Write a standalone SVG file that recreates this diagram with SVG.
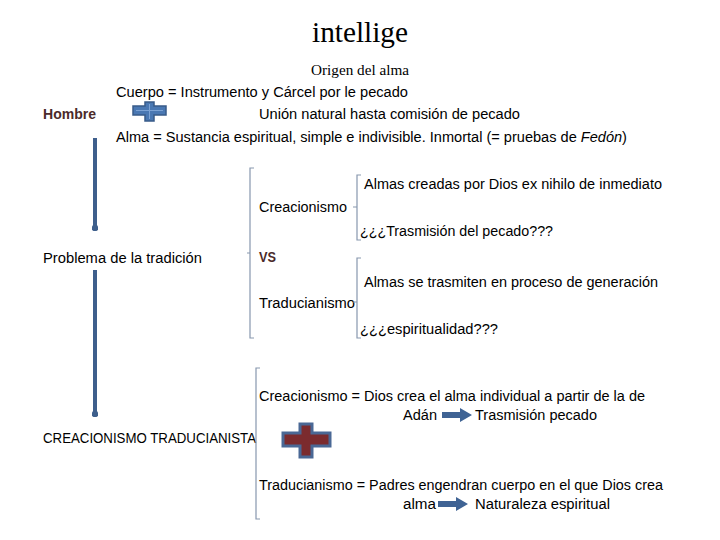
<svg xmlns="http://www.w3.org/2000/svg" width="720" height="540" viewBox="0 0 720 540">
<defs>
<style>
.t{font-family:"Liberation Sans",Arial,sans-serif;font-size:14px;fill:#000}
.title{font-family:"Liberation Serif","Times New Roman",serif;fill:#000}
.brown{font-family:"Liberation Sans",Arial,sans-serif;font-size:14px;font-weight:bold;fill:#4b2a2a}
.br{fill:none;stroke:#8797ae;stroke-width:1.2}
.varrow{stroke:#3e5f8c;stroke-width:4;fill:none}
.blk{fill:#3f6394}
</style>
<marker id="dot" viewBox="0 0 6 6" refX="3" refY="3" markerWidth="1.6" markerHeight="1.6" markerUnits="strokeWidth">
<circle cx="3" cy="3" r="3" fill="#3e5f8c"/>
</marker>
<path id="blockArrow" d="M0,-3 L18,-3 L18,-7 L30,0 L18,7 L18,3 L0,3 Z"/>
</defs>
<rect width="720" height="540" fill="#fff"/>

<g id="title">
<text class="title" x="360" y="42" font-size="30" text-anchor="middle" textLength="96" lengthAdjust="spacingAndGlyphs">intellige</text>
<text class="title" x="360" y="75" font-size="15" text-anchor="middle" textLength="98" lengthAdjust="spacingAndGlyphs">Origen del alma</text>
</g>

<g id="hombre">
<text class="brown" x="43" y="119" textLength="53" lengthAdjust="spacingAndGlyphs">Hombre</text>
</g>

<g id="cuerpo">
<text class="t" x="116" y="97" textLength="292" lengthAdjust="spacingAndGlyphs">Cuerpo = Instrumento y Cárcel  por le pecado</text>
</g>

<g id="cruz-azul">
<path d="M133,106 H145 V102 H154 V106 H166 V115 H154 V121 H145 V115 H133 Z" fill="#4a78b3" stroke="#385b89" stroke-width="1.5"/>
<path d="M136,110.5 H163 M149.5,104 V119" stroke="#7da3d4" stroke-width="1" fill="none"/>
</g>

<g id="union">
<text class="t" x="259" y="119" textLength="261" lengthAdjust="spacingAndGlyphs">Unión natural hasta comisión de pecado</text>
</g>

<g id="alma">
<text class="t" x="116" y="142" textLength="511" lengthAdjust="spacingAndGlyphs">Alma = Sustancia espiritual, simple e indivisible. Inmortal (= pruebas de <tspan font-style="italic">Fedón</tspan>)</text>
</g>

<g id="problema">
<text class="t" x="43" y="263" textLength="159" lengthAdjust="spacingAndGlyphs">Problema de la tradición</text>
</g>

<g id="creacionismo">
<text class="t" x="259" y="212" textLength="88" lengthAdjust="spacingAndGlyphs">Creacionismo</text>
<text class="t" x="364" y="189" textLength="298" lengthAdjust="spacingAndGlyphs">Almas creadas por Dios ex nihilo de inmediato</text>
<text class="t" x="360" y="236" textLength="193" lengthAdjust="spacingAndGlyphs">¿¿¿Trasmisión del pecado???</text>
</g>

<g id="vs">
<text class="brown" x="259" y="262" textLength="17" lengthAdjust="spacingAndGlyphs">VS</text>
</g>

<g id="traducianismo">
<text class="t" x="259" y="308" textLength="96" lengthAdjust="spacingAndGlyphs">Traducianismo</text>
<text class="t" x="364" y="287" textLength="294" lengthAdjust="spacingAndGlyphs">Almas se trasmiten en proceso de generación</text>
<text class="t" x="360" y="334" textLength="138" lengthAdjust="spacingAndGlyphs">¿¿¿espiritualidad???</text>
</g>

<g id="creacionismo-traducianista">
<text class="t" x="43" y="443" textLength="213" lengthAdjust="spacingAndGlyphs">CREACIONISMO TRADUCIANISTA</text>
</g>

<g id="def-creacionismo">
<text class="t" x="259" y="401" textLength="386" lengthAdjust="spacingAndGlyphs">Creacionismo = Dios crea el alma individual a partir de la de</text>
<text class="t" x="403" y="420" textLength="34" lengthAdjust="spacingAndGlyphs">Adán</text>
<use href="#blockArrow" class="blk" x="442" y="415"/>
<text class="t" x="475" y="420" textLength="122" lengthAdjust="spacingAndGlyphs">Trasmisión pecado</text>
</g>

<g id="cruz-roja">
<path d="M283,433 H300 V424 H312 V433 H330 V446 H312 V457 H300 V446 H283 Z" fill="#7b2b2e" stroke="#4a6895" stroke-width="3"/>
</g>

<g id="def-traducianismo">
<text class="t" x="259" y="490" textLength="404" lengthAdjust="spacingAndGlyphs">Traducianismo = Padres engendran cuerpo en el que Dios crea</text>
<text class="t" x="403" y="509" textLength="33" lengthAdjust="spacingAndGlyphs">alma</text>
<use href="#blockArrow" class="blk" x="438" y="504"/>
<text class="t" x="475" y="509" textLength="135" lengthAdjust="spacingAndGlyphs">Naturaleza espiritual</text>
</g>

<g id="connectors">
<line class="varrow" x1="95" y1="138" x2="95" y2="228" marker-end="url(#dot)"/>
<line class="varrow" x1="95" y1="270" x2="95" y2="414" marker-end="url(#dot)"/>
<path class="br" d="M254,168 H250 V338 H254 M250,253 H247"/>
<path class="br" d="M361,175 H357 V240 H361 M357,207 H353"/>
<path class="br" d="M361,258 H357 V338 H361 M357,302 H353"/>
<path class="br" d="M260,368 H256 V519 H260"/>
</g>
</svg>
